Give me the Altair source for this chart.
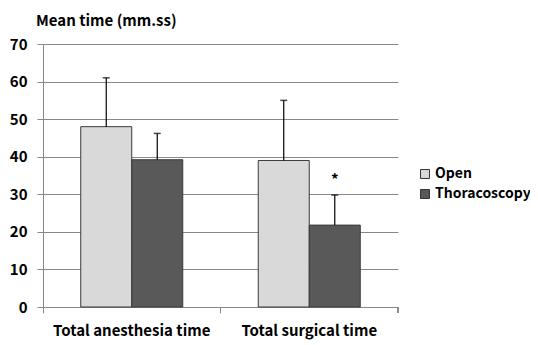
import altair as alt
import pandas as pd

categories = ["Total anesthesia time", "Total surgical time"]
groups = ["Open", "Thoracoscopy"]
open_means = [48.0, 39.0]
open_err = [13.0, 16.0]
thor_means = [39.2, 21.8]
thor_err = [7.0, 8.0]
marks = ["", "*"]
colors = ["#d9d9d9", "#595959"]

rows = []
for i, c in enumerate(categories):
    rows.append({"cat": c, "grp": "Open", "val": open_means[i], "up": open_means[i] + open_err[i], "note": ""})
    rows.append({"cat": c, "grp": "Thoracoscopy", "val": thor_means[i], "up": thor_means[i] + thor_err[i], "note": marks[i]})
df = pd.DataFrame(rows)

FONT = "Noto Sans CJK KR"

x = alt.X("cat:N", sort=categories, title=None,
          scale=alt.Scale(paddingInner=0, paddingOuter=0),
          axis=alt.Axis(labelAngle=0, labelFontSize=15, labelFontWeight="bold", labelColor="#000",
                        labelFont=FONT, labelPadding=10, domainColor="#888", tickColor="#888",
                        tickSize=6, bandPosition=0, grid=False))
xo = alt.XOffset("grp:N", sort=groups, scale=alt.Scale(paddingOuter=0.74, paddingInner=0))
yscale = alt.Scale(domain=[0, 70], nice=False)
yaxis = alt.Axis(values=list(range(0, 71, 10)), labelFontSize=15, labelFontWeight="bold",
                 labelColor="#000", labelFont=FONT, labelPadding=10, domainColor="#888",
                 tickColor="#888", tickSize=6, gridColor="#888", gridWidth=1, labelOverlap=False)
y = alt.Y("val:Q", title=None, scale=yscale, axis=yaxis)
yup = alt.Y("up:Q", title=None, scale=yscale, axis=yaxis)

bars = alt.Chart(df).mark_bar(stroke="#3a3a3a", strokeWidth=1).encode(
    x=x, xOffset=xo, y=y,
    color=alt.Color("grp:N", sort=groups, scale=alt.Scale(domain=groups, range=colors),
                    legend=alt.Legend(title=None, orient="none", legendX=375, legendY=123,
                                      symbolType="square", symbolSize=80, symbolStrokeColor="#333",
                                      symbolStrokeWidth=1, labelFontSize=14, labelFontWeight="bold",
                                      labelFont=FONT, labelColor="#000", rowPadding=6, labelOffset=3,
                                      padding=0)),
)

err = alt.Chart(df).mark_rule(color="#000", strokeWidth=1.2).encode(
    x=x, xOffset=xo, y=y, y2="up:Q")
caps = alt.Chart(df).mark_tick(color="#000", size=7, thickness=1.5).encode(
    x=x, xOffset=xo, y=yup)
notes = alt.Chart(df).mark_text(fontSize=15, fontWeight="bold", font=FONT, dy=-15, color="#000").encode(
    x=x, xOffset=xo, y=yup, text="note:N")
edge = alt.Chart(df).mark_rule(color="#888").encode(
    x=alt.value(355), y=alt.value(263), y2=alt.value(269))

chart = alt.layer(bars, err, caps, notes, edge).properties(
    width=355, height=263,
    title=alt.TitleParams("Mean time (mm.ss)", anchor="start", frame="group", fontSize=15,
                          fontWeight="bold", font=FONT, color="#000", dx=-7, offset=8),
    padding={"left": 35, "top": 36, "right": 132, "bottom": 34},
    autosize=alt.AutoSizeParams(type="none"),
).configure_view(stroke=None)

chart.save("out.html", embed_options={"renderer": "svg", "actions": False})
